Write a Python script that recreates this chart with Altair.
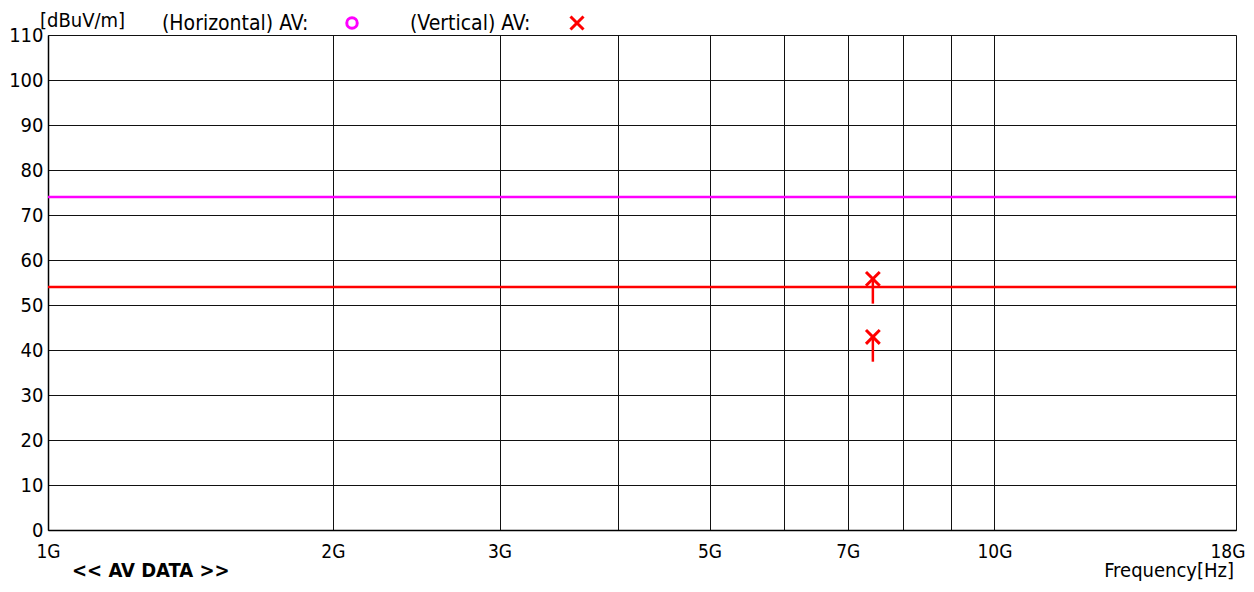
import altair as alt
import pandas as pd

# Data
grid_freqs = [1, 2, 3, 4, 5, 6, 7, 8, 9, 10, 18]
label_freqs = [1, 2, 3, 5, 7, 10, 18]
y_ticks = [0, 10, 20, 30, 40, 50, 60, 70, 80, 90, 100, 110]
limit_names = ["Horizontal AV limit", "Vertical AV limit"]
limit_values = [74, 54]
limit_colors = ["#ff00ff", "#ff0000"]
meas_freq = [7.44, 7.44]
meas_level = [55.8, 42.9]
stem_len = 5.5

FONT = "DejaVu Sans Condensed, Noto Sans CJK JP, sans-serif"
W, H = 1188, 495

xscale = alt.Scale(type="log", domain=[1, 18], nice=False)
yscale = alt.Scale(domain=[0, 110], nice=False)

label_expr = "indexof([" + ",".join(str(v) for v in label_freqs) + "], datum.value) >= 0 ? datum.value + 'G' : ''"

xaxis = alt.Axis(values=grid_freqs, labelExpr=label_expr, title=None, grid=True,
                 gridColor="#111111", gridOpacity=1, gridWidth=1, ticks=False,
                 domainColor="black", domainWidth=1.5, labelFont=FONT, labelFontSize=19,
                 labelColor="black", labelPadding=12, labelFlush=False, labelOverlap=False,
                 labelAlign={"condition": {"test": "datum.value == 18", "value": "right"}, "value": "center"},
                 labelOffset={"condition": {"test": "datum.value == 18", "value": 9}, "value": 0})
yaxis = alt.Axis(values=y_ticks, title=None, grid=True, gridColor="#111111", gridOpacity=1,
                 gridWidth=1, ticks=False, domainColor="black", domainWidth=1.5,
                 labelFont=FONT, labelFontSize=20, labelColor="black", labelPadding=5)

base_df = pd.DataFrame({"f": [1, 18], "v": [0, 110]})
frame = alt.Chart(base_df).mark_point(opacity=0).encode(
    x=alt.X("f:Q", scale=xscale, axis=xaxis),
    y=alt.Y("v:Q", scale=yscale, axis=yaxis),
)

lim_df = pd.DataFrame({"name": limit_names, "v": limit_values, "c": limit_colors})
limits = alt.Chart(lim_df).mark_rule(strokeWidth=2.5).encode(
    y=alt.Y("v:Q", scale=yscale),
    color=alt.Color("c:N", scale=None),
)

meas_df = pd.DataFrame({"f": meas_freq, "v": meas_level})
stems = alt.Chart(meas_df).transform_calculate(v2=f"datum.v - {stem_len}").mark_rule(
    color="#ff0000", strokeWidth=2.5).encode(
    x=alt.X("f:Q", scale=xscale), y=alt.Y("v:Q", scale=yscale), y2="v2:Q")

XSHAPE = "M-1,-1L1,1M1,-1L-1,1"
marks = alt.Chart(meas_df).mark_point(shape=XSHAPE, filled=False, color="#ff0000",
                                       strokeWidth=3, size=190, opacity=1).encode(
    x=alt.X("f:Q", scale=xscale), y=alt.Y("v:Q", scale=yscale))

one = pd.DataFrame({"a": [0]})

def txt(text, x, y, size, align="left", bold=False, baseline="middle", font=FONT):
    return alt.Chart(one).mark_text(text=text, font=font, fontSize=size, align=align,
                                    baseline=baseline, color="black",
                                    fontWeight="bold" if bold else "normal").encode(
        x=alt.value(x), y=alt.value(y))

texts = [
    txt("[dBuV/m]", -8, -24, 20, baseline="top"),
    txt("(Horizontal) AV:", 114, -11, 21),
    txt("(Vertical) AV:", 362, -11, 21),
    txt("<< AV DATA >>", 24, 41 + H, 20, bold=True),
    txt("Frequency[Hz]", 1186, 41 + H, 20, align="right"),
]
leg_circle = alt.Chart(one).mark_point(shape="circle", filled=False, color="#ff00ff",
                                       strokeWidth=3, size=110, opacity=1).encode(
    x=alt.value(304), y=alt.value(-12))
leg_x = alt.Chart(one).mark_point(shape=XSHAPE, filled=False, color="#ff0000",
                                  strokeWidth=3, size=170, opacity=1).encode(
    x=alt.value(529), y=alt.value(-12))

chart = alt.layer(frame, limits, stems, marks, leg_circle, leg_x, *texts).properties(
    width=W, height=H,
    padding={"left": 40, "top": 27, "right": 10, "bottom": 54},
    autosize=alt.AutoSizeParams(type="none"),
).configure_view(stroke="black", strokeWidth=1.5).configure(background="white")

chart.save("out.html", embed_options={"renderer": "svg", "actions": False})
